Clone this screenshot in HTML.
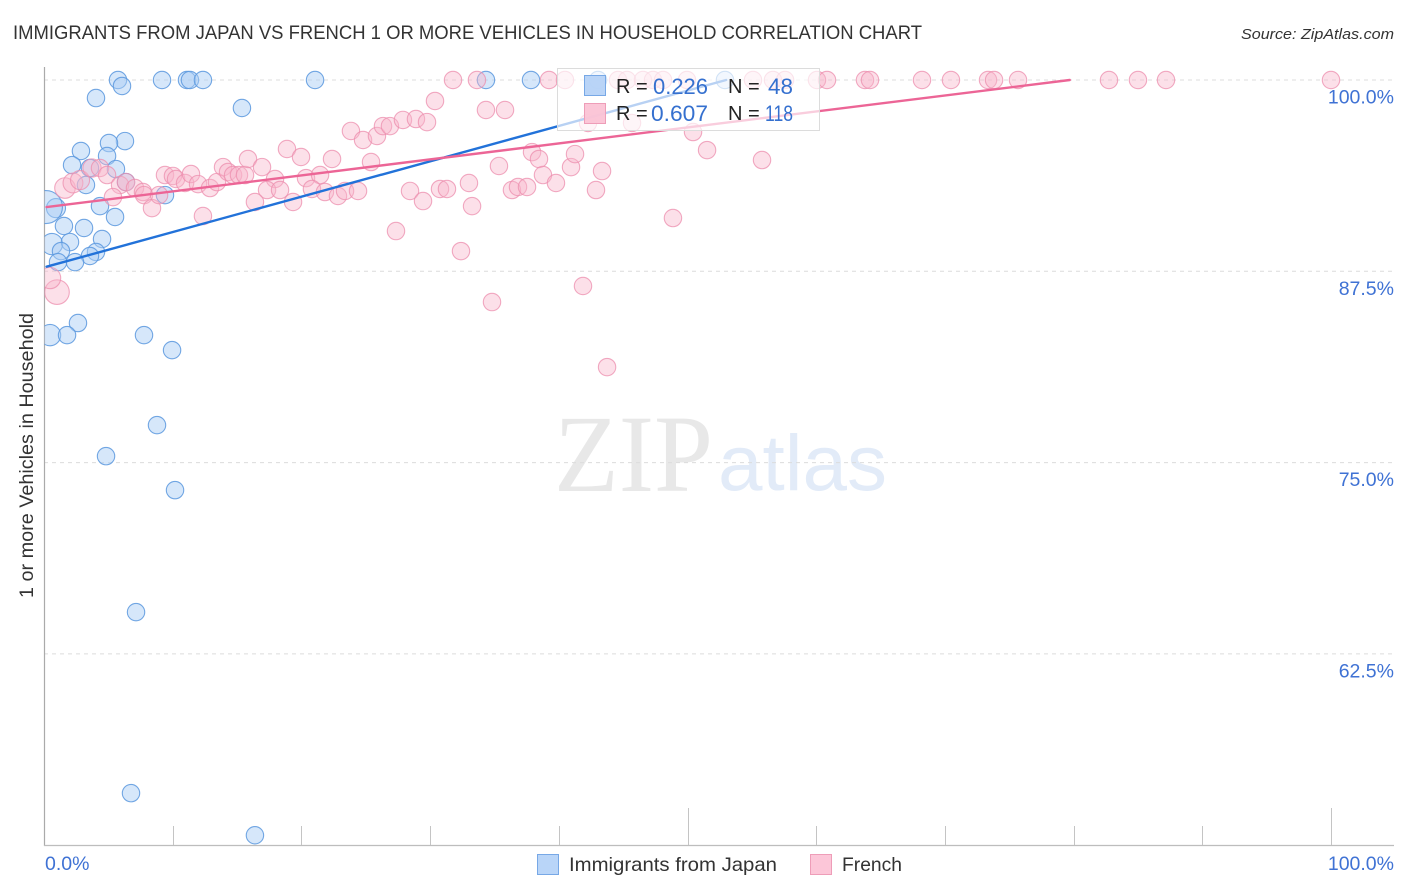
<!DOCTYPE html>
<html lang="en">
<head>
<meta charset="utf-8">
<title>Immigrants from Japan vs French 1 or more Vehicles in Household Correlation Chart</title>
<style>
html,body{margin:0;padding:0;background:#fff;width:1406px;height:892px;overflow:hidden}
svg{display:block;font-family:"Liberation Sans",sans-serif}
</style>
</head>
<body>
<svg id="chart" width="1406" height="892" viewBox="0 0 1406 892" xmlns="http://www.w3.org/2000/svg">
  <defs>
    <clipPath id="plot-clip"><rect x="44.5" y="60" width="1350" height="785"/></clipPath>
  </defs>
  <rect x="0" y="0" width="1406" height="892" fill="#fff"/>
  <text x="13" y="39" font-size="19" fill="#333" textLength="909" lengthAdjust="spacingAndGlyphs">IMMIGRANTS FROM JAPAN VS FRENCH 1 OR MORE VEHICLES IN HOUSEHOLD CORRELATION CHART</text>
  <text x="1241" y="39" font-size="15" font-style="italic" fill="#333" textLength="153" lengthAdjust="spacingAndGlyphs">Source: ZipAtlas.com</text>
  <g id="watermark">
    <text x="554" y="491" font-family="'Liberation Serif',serif" font-size="110" fill="#e8e8e8" textLength="159" lengthAdjust="spacingAndGlyphs">ZIP</text>
    <text x="718" y="490" font-size="79" fill="#e2ebf8" textLength="169" lengthAdjust="spacingAndGlyphs">atlas</text>
  </g>
  <g id="grid"></g>
  <g id="axes"></g>
  <g id="points" clip-path="url(#plot-clip)"></g>
  <g id="trends"></g>
  <g id="ylabels"></g>
  <g id="xlabels"></g>
  <text transform="translate(33,598) rotate(-90)" font-size="19" fill="#333" textLength="285" lengthAdjust="spacingAndGlyphs">1 or more Vehicles in Household</text>

  <g>
    <rect x="557.5" y="68.5" width="262" height="62" fill="#fff" fill-opacity="0.68" stroke="#dcdcdc" stroke-width="1"/>
    <rect x="584.5" y="75.5" width="21" height="20" fill="#b5d2f7" fill-opacity="0.95" stroke="#77a8e6"/>
    <rect x="584.5" y="103.5" width="21" height="20" fill="#fbc3d5" fill-opacity="0.95" stroke="#ee9db8"/>
    <text x="616" y="93" font-size="20" fill="#222">R =</text>
    <text x="653" y="94" font-size="22" fill="#3570cf" textLength="55" lengthAdjust="spacingAndGlyphs">0.226</text>
    <text x="728" y="93" font-size="20" fill="#222">N =</text>
    <text x="768" y="94" font-size="22" fill="#3570cf" textLength="25" lengthAdjust="spacingAndGlyphs">48</text>
    <text x="616" y="120" font-size="20" fill="#222">R =</text>
    <text x="651" y="121" font-size="22" fill="#3570cf" textLength="57" lengthAdjust="spacingAndGlyphs">0.607</text>
    <text x="728" y="120" font-size="20" fill="#222">N =</text>
    <text x="765" y="121" font-size="22" fill="#3570cf" textLength="28" lengthAdjust="spacingAndGlyphs">118</text>
  </g>

  <g>
    <g>
      <rect x="537.5" y="854.5" width="21" height="20" fill="#b9d5f8" stroke="#77a8e6"/>
      <text x="569" y="871" font-size="19.5" fill="#333" textLength="208" lengthAdjust="spacingAndGlyphs">Immigrants from Japan</text>
    </g>
    <g>
      <rect x="810.5" y="854.5" width="21" height="20" fill="#fcc6d8" stroke="#ee9db8"/>
      <text x="842" y="871" font-size="19.5" fill="#333" textLength="60" lengthAdjust="spacingAndGlyphs">French</text>
    </g>
  </g>
</svg>
<script>
// ----- chart data -----
const yTicks = [100, 87.5, 75, 62.5];
const yTickLabels = ["100.0%", "87.5%", "75.0%", "62.5%"];
const xTicks = [0, 10, 20, 30, 40, 50, 60, 70, 80, 90, 100];
const xEndLabels = ["0.0%", "100.0%"];

const japanX = [5.75,6.06,4.04,9.17,11.11,11.34,12.35,21.06,15.38,34.34,37.84,6.29,5.05,2.87,4.90,2.18,5.59,3.57,3.26,6.37,9.40,0.93,0.15,4.35,5.52,1.55,3.11,0.62,2.02,4.51,1.32,4.04,3.57,1.09,2.41,2.64,0.47,1.79,7.77,9.95,8.78,4.82,10.18,7.15,6.76,16.39,52.91,43.05];
const japanY = [100,99.61,98.82,100,100,100,100,100,98.17,100,100,96.01,95.88,95.36,95.03,94.44,94.18,94.25,93.14,93.33,92.48,91.63,91.70,91.76,91.05,90.46,90.33,89.28,89.41,89.61,88.82,88.76,88.50,88.10,88.10,84.12,83.33,83.33,83.33,82.35,77.45,75.42,73.20,65.23,53.40,50.65,100,100];
const japanWeight = [1,1,1,1,1,1,1,1,1,1,1,1,1,1,1,1,1,1,1,1,1,1.2,3.6,1,1,1,1,1.5,1,1,1,1,1,1,1,1,1.5,1,1,1,1,1,1,1,1,1,1,1];

const frenchX = [1.01,0.47,1.63,2.25,2.80,3.73,4.35,4.90,5.91,6.37,7.07,7.69,5.36,7.77,8.39,8.94,9.40,10.02,10.26,10.96,11.42,11.97,12.90,13.44,13.91,14.30,14.69,15.15,15.62,15.85,16.94,17.95,17.33,18.34,16.39,12.35,18.88,19.97,22.38,20.36,21.45,20.82,21.83,22.84,23.39,19.35,23.85,24.79,25.87,26.34,26.88,27.89,28.90,29.76,30.38,31.78,33.64,34.34,35.82,39.24,40.48,25.41,24.40,28.44,29.45,30.77,31.31,33.02,33.26,27.35,32.40,35.35,37.92,38.46,38.77,39.78,36.36,36.83,37.53,40.95,41.26,43.36,42.89,48.87,41.88,34.81,43.75,42.27,45.69,50.43,51.52,55.79,44.60,45.30,46.54,47.32,48.10,49.96,55.09,56.64,57.58,60.06,60.84,63.79,64.18,68.22,70.47,73.35,73.82,75.68,82.75,85.00,87.18,100];
const frenchY = [86.14,87.06,92.94,93.27,93.46,94.25,94.25,93.79,93.14,93.33,92.94,92.68,92.35,92.48,91.63,92.48,93.79,93.73,93.53,93.27,93.86,93.20,92.94,93.33,94.31,93.99,93.79,93.79,93.79,94.84,94.31,93.53,92.81,92.81,92.03,91.11,95.49,94.97,94.84,93.59,93.79,92.88,92.68,92.42,92.75,92.03,96.67,96.08,96.34,96.99,96.99,97.39,97.45,97.25,98.63,100,100,98.04,98.04,100,100,94.64,92.75,92.75,92.09,92.88,92.88,93.27,91.76,90.13,88.82,94.38,95.29,94.84,93.79,93.27,92.81,93.01,93.01,94.31,95.16,94.05,92.81,90.98,86.54,85.49,81.24,97.19,97.19,96.60,95.42,94.77,100,100,100,100,100,100,100,100,100,100,100,100,100,100,100,100,100,100,100,100,100,100];
const frenchWeight = [2.0,1.5,1.4,1.3,1.2,1.1];

const japanTrend = [0.2, 87.8, 53.0, 100];
const frenchTrend = [0.2, 91.7, 79.7, 100];

// ----- axis functions -----
function xScale(v) { return 44 + v * 12.87; }
function yScale(v) { return 80 + (100 - v) * 15.304; }
function rScale(w) { return 8.7 * Math.sqrt(w || 1); }

const NS = "http://www.w3.org/2000/svg";
function mk(tag, parent, attrs) {
  const el = document.createElementNS(NS, tag);
  for (const k in attrs) el.setAttribute(k, attrs[k]);
  parent.appendChild(el);
  return el;
}

// gridlines
const gridG = document.getElementById("grid");
yTicks.forEach(function (t) {
  const el = mk("line", gridG, { x1: 44, x2: 1394, y1: yScale(t), y2: yScale(t), stroke: "#dcdcdc", "stroke-width": 1, "stroke-dasharray": "4 4" });
  
  
});

// axes
const axesG = document.getElementById("axes");
const yAxisLine = mk("line", axesG, { x1: 44.5, x2: 44.5, y1: 67, y2: 846, stroke: "#aaaaaa", "stroke-width": 1.2 });


const xAxisLine = mk("line", axesG, { x1: 44, x2: 1394, y1: 845.5, y2: 845.5, stroke: "#bdbdbd", "stroke-width": 1.2 });


xTicks.forEach(function (t) {
  if (t === 0) return;
  const top = (t === 50 || t === 100) ? 808 : 826;
  const el = mk("line", axesG, { x1: Math.round(xScale(t)) + 0.5, x2: Math.round(xScale(t)) + 0.5, y1: top, y2: 845, stroke: "#c4c4c4", "stroke-width": 1 });
  
  
});

// points
const pointsG = document.getElementById("points");
japanX.forEach(function (x, i) {
  const el = mk("circle", pointsG, { cx: xScale(x), cy: yScale(japanY[i]), r: rScale(japanWeight[i]), fill: "#a9ccf4", "fill-opacity": 0.48, stroke: "#5b98de", "stroke-opacity": 0.85, "stroke-width": 1.1 });
  
  
});
frenchX.forEach(function (x, i) {
  const el = mk("circle", pointsG, { cx: xScale(x), cy: yScale(frenchY[i]), r: rScale(frenchWeight[i]), fill: "#f9b6cb", "fill-opacity": 0.42, stroke: "#ec8dae", "stroke-opacity": 0.75, "stroke-width": 1.1 });
  
  
});

// trend lines
const trendsG = document.getElementById("trends");
const japanLine = mk("line", trendsG, { x1: xScale(japanTrend[0]), y1: yScale(japanTrend[1]), x2: xScale(japanTrend[2]), y2: yScale(japanTrend[3]), stroke: "#2272d9", "stroke-width": 2.4, "stroke-linecap": "round" });


const frenchLine = mk("line", trendsG, { x1: xScale(frenchTrend[0]), y1: yScale(frenchTrend[1]), x2: xScale(frenchTrend[2]), y2: yScale(frenchTrend[3]), stroke: "#ec6596", "stroke-width": 2.4, "stroke-linecap": "round" });



// tick labels
const ylabelsG = document.getElementById("ylabels");
yTicks.forEach(function (t, i) {
  const el = mk("text", ylabelsG, { x: 1394, y: yScale(t) + 23.5, "text-anchor": "end", "font-size": 19.5, fill: "#3f72d4" });
  el.textContent = yTickLabels[i];
  
  
});
const xlabelsG = document.getElementById("xlabels");
const xStart = mk("text", xlabelsG, { x: 45, y: 870, "font-size": 19.5, fill: "#3f72d4" });
xStart.textContent = xEndLabels[0];


const xEnd = mk("text", xlabelsG, { x: 1394, y: 870, "text-anchor": "end", "font-size": 19.5, fill: "#3f72d4" });
xEnd.textContent = xEndLabels[1];


</script>
</body>
</html>
